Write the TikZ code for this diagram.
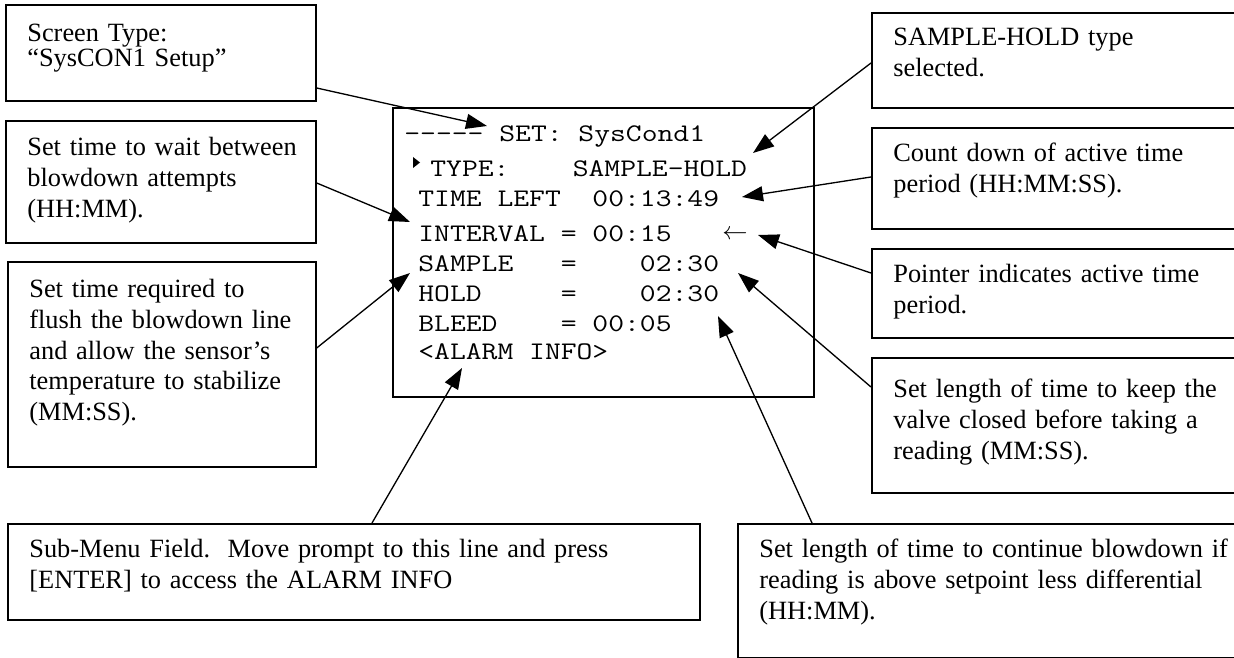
\documentclass[tikz,border=0pt]{standalone}
\usepackage{fontspec}
\setmainfont{Liberation Serif}
\newfontfamily\lcdfamily[FakeStretch=1.215]{Latin Modern Mono}
\usetikzlibrary{arrows.meta,positioning,calc}

\newcommand{\notefont}{\fontsize{15}{17.4}\selectfont}
\newcommand{\lcdfont}{\lcdfamily\fontsize{14.4}{17}\selectfont}

\begin{document}
\begin{tikzpicture}[
    x=0.02cm, y=-0.02cm,
    note/.style={rectangle, draw, line width=1pt, anchor=north west, inner sep=0pt,
                 font=\notefont, execute at begin node={\raggedright\leftskip=0.43cm\relax}},
    screen/.style={rectangle, draw, line width=1pt, anchor=north west, inner sep=0pt},
    lcd/.style={anchor=base west, inner sep=0pt, font=\lcdfont},
    lead/.style={-{Triangle[length=0.42cm,width=0.3cm]}, line width=0.75pt}
]
\useasboundingbox (0,0) rectangle (1234,658);

%% ── Display screen ───────────────────────────────────────────────
\node[screen, minimum width=8.42cm, minimum height=5.78cm] (screen) at (392,107) {};
\node[lcd] (title)  at (404,142) {-{}-{}-{}-{}-~SET:~SysCond1};
\node[lcd] (type)   at (430,177) {TYPE:~~~~SAMPLE-HOLD};
\node[lcd] (left)   at (418,207) {TIME~LEFT~~00:13:49};
\node[lcd] (intvl)  at (418,242) {INTERVAL~=~00:15};
\node[lcd] (sample) at (418,272) {SAMPLE~~~=~~~~02:30};
\node[lcd] (hold)   at (418,302) {HOLD~~~~~=~~~~02:30};
\node[lcd] (bleed)  at (418,332) {BLEED~~~~=~00:05};
\node[lcd] (alarm)  at (418,360) {<ALARM~INFO>};
\node[inner sep=0pt, font=\fontsize{15}{17}\selectfont] (active) at (735,235) {$\leftarrow$};
\fill (413,157) -- (420,162.5) -- (413,168) -- cycle;

%% ── Left notes ───────────────────────────────────────────────────
\node[note, text width=6.2cm, text height=0.74cm, text depth=1.18cm,
      font=\fontsize{15}{13.1}\selectfont] (scrtype) at (5,4)
    {Screen Type:\\“SysCON1 Setup”};
\node[note, text width=6.2cm, text height=0.70cm, text depth=1.74cm] (waitint) at (5,120)
    {Set time to wait between\\blowdown attempts\\(HH:MM).};
\node[note, text width=6.16cm, text height=0.72cm, text depth=3.38cm] (flush) at (7,261)
    {Set time required to\\flush the blowdown line\\and allow the sensor’s\\temperature to stabilize\\(MM:SS).};

%% ── Right notes ──────────────────────────────────────────────────
\node[note, text width=7.8cm, text height=0.66cm, text depth=1.24cm] (typesel) at (871,12)
    {SAMPLE-HOLD type\\selected.};
\node[note, text width=7.8cm, text height=0.68cm, text depth=1.34cm] (countdn) at (871,127)
    {Count down of active time\\period (HH:MM:SS).};
\node[note, text width=7.8cm, text height=0.68cm, text depth=1.10cm] (pointer) at (871,248)
    {Pointer indicates active time\\period.};
\node[note, text width=7.8cm, text height=0.80cm, text depth=1.90cm] (keepclosed) at (871,357)
    {Set length of time to keep the\\valve closed before taking a\\reading (MM:SS).};

%% ── Bottom notes ─────────────────────────────────────────────────
\node[note, text width=13.84cm, text height=0.68cm, text depth=1.24cm] (submenu) at (7,523)
    {Sub-Menu Field.\ \ Move prompt to this line and press\\{}[ENTER] to access the ALARM INFO};
\node[note, text width=11cm, text height=0.68cm, text depth=2.00cm] (continue) at (737,523)
    {Set length of time to continue blowdown if\\reading is above setpoint less differential\\(HH:MM).};

%% ── Arrow tips on the screen ─────────────────────────────────────
\coordinate (tipset)    at (487,126);
\coordinate (tiptype)   at (753,153);
\coordinate (tiptime)   at (742,197);
\coordinate (tipint)    at (410,222);
\coordinate (tipsample) at (410,273);
\coordinate (tipptr)    at (758,235);
\coordinate (tiphold)   at (738,273);
\coordinate (tipbleed)  at (718,316);
\coordinate (tipalarm)  at (462,368);

%% ── Leaders ──────────────────────────────────────────────────────
\draw[lead] (scrtype.east |- 0,88)     -- (tipset);
\draw[lead] (waitint.east |- 0,183)    -- (tipint);
\draw[lead] (flush.east |- 0,348)      -- (tipsample);
\draw[lead] (typesel.west |- 0,63)     -- (tiptype);
\draw[lead] (countdn.west |- 0,177)    -- (tiptime);
\draw[lead] (pointer.west |- 0,273)    -- (tipptr);
\draw[lead] (keepclosed.west |- 0,387) -- (tiphold);
\draw[lead] (continue.north -| 812,0)  -- (tipbleed);
\draw[lead] (submenu.north -| 372,0)   -- (tipalarm);

\end{tikzpicture}
\end{document}
